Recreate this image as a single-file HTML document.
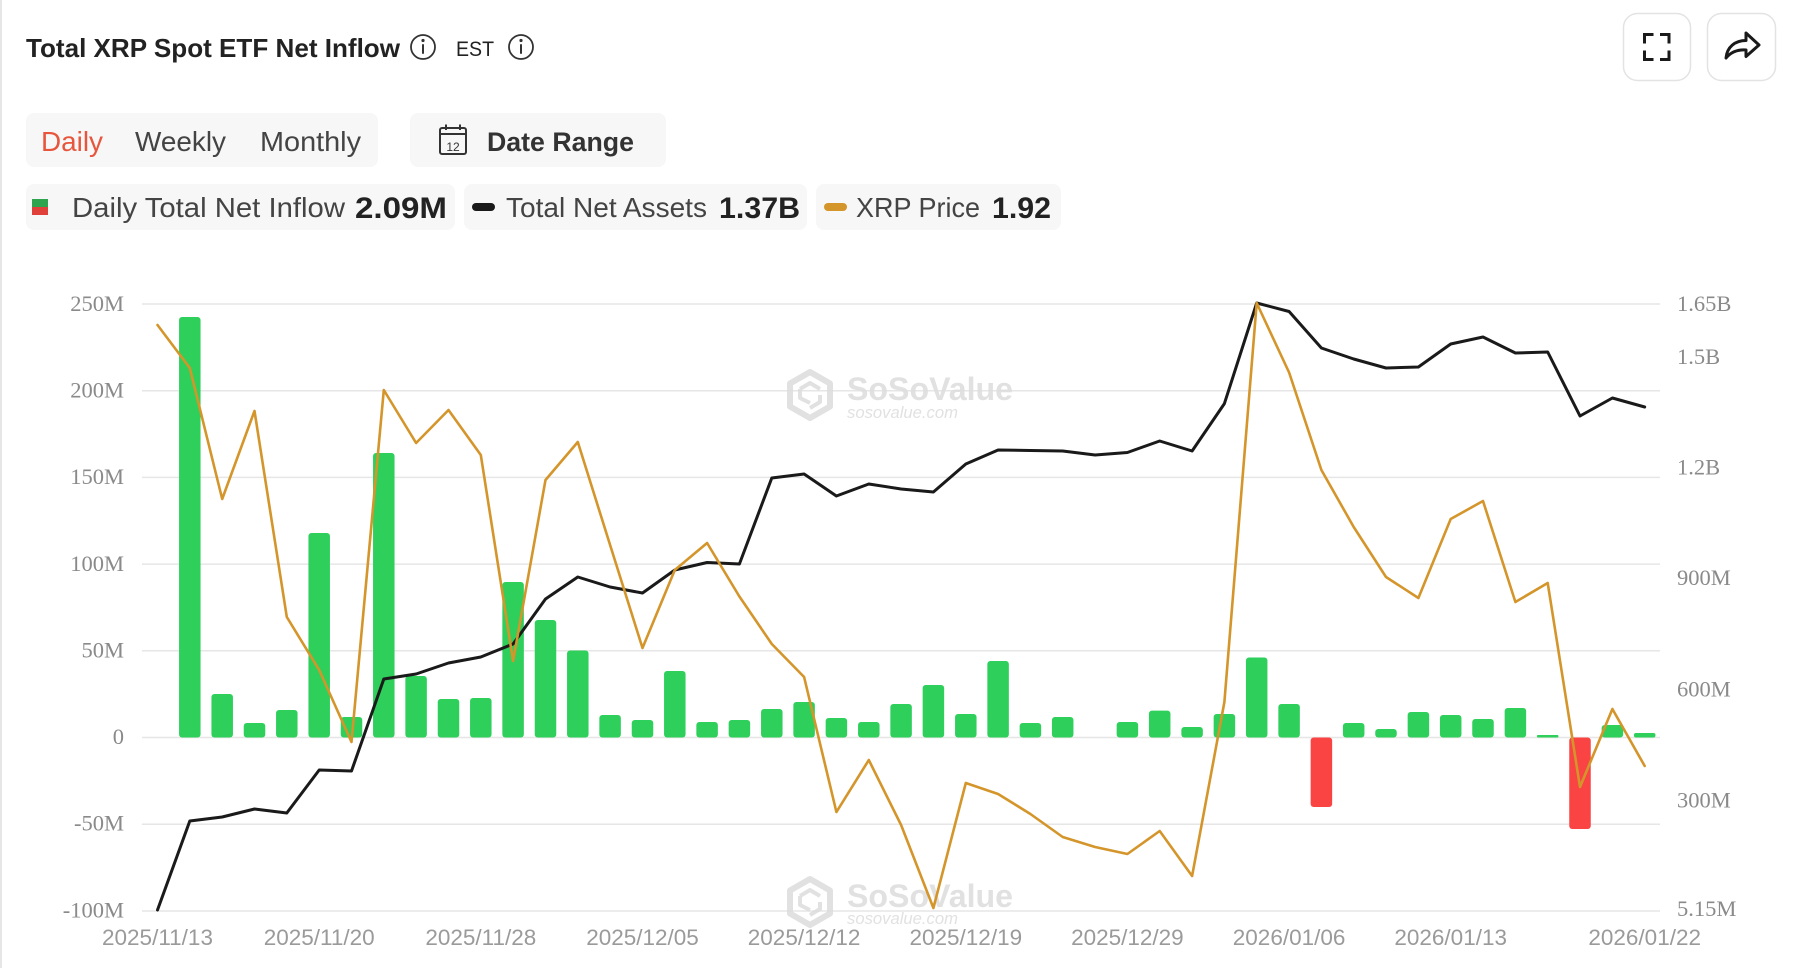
<!DOCTYPE html>
<html>
<head>
<meta charset="utf-8">
<style>
  html,body{margin:0;padding:0;background:#fff;}
  body{width:1794px;height:968px;overflow:hidden;position:relative;}
  svg{position:absolute;left:0;top:0;}
  .sans{font-family:"Liberation Sans",sans-serif;}
  .serif{font-family:"Liberation Serif",serif;}
</style>
</head>
<body>
<svg width="1794" height="968" viewBox="0 0 1794 968" xmlns="http://www.w3.org/2000/svg">
  <!-- card left border -->
  <rect x="0" y="0" width="2" height="968" fill="#e6e6e6"/>

  <!-- Title -->
  <text class="sans" x="26" y="57" font-size="26" font-weight="bold" fill="#222" textLength="374" lengthAdjust="spacingAndGlyphs">Total XRP Spot ETF Net Inflow</text>
  <g fill="none" stroke="#333" stroke-width="1.8">
    <circle cx="423" cy="47" r="12"/>
    <circle cx="521" cy="47" r="12"/>
  </g>
  <g fill="#333">
    <circle cx="423" cy="40.5" r="1.6"/>
    <rect x="422" y="44" width="2" height="10" rx="1"/>
    <circle cx="521" cy="40.5" r="1.6"/>
    <rect x="520" y="44" width="2" height="10" rx="1"/>
  </g>
  <text class="sans" x="456" y="56" font-size="21" fill="#222" textLength="38" lengthAdjust="spacingAndGlyphs">EST</text>

  <!-- top right buttons -->
  <rect x="1623.5" y="13.5" width="67" height="67" rx="14" fill="#fff" stroke="#e3e3e3" stroke-width="1.5"/>
  <rect x="1707.5" y="13.5" width="68" height="67" rx="14" fill="#fff" stroke="#e3e3e3" stroke-width="1.5"/>
  <g fill="none" stroke="#1a1a1a" stroke-width="3" stroke-linecap="square">
    <path d="M1644.5,42 V34.5 H1652"/>
    <path d="M1661.5,34.5 H1669 V42"/>
    <path d="M1644.5,52 V59.5 H1652"/>
    <path d="M1661.5,59.5 H1669 V52"/>
  </g>
  <path d="M1726,58 C1727,47 1735,40.5 1746,40.5 L1746,33 L1759,45 L1746,56.5 L1746,50 C1738,49.5 1731,52 1726,58 Z" fill="none" stroke="#1a1a1a" stroke-width="3" stroke-linejoin="round"/>

  <!-- Tabs -->
  <rect x="26" y="113" width="352" height="54" rx="8" fill="#f7f7f7"/>
  <text class="sans" x="41" y="151" font-size="28" fill="#e8553d" textLength="62" lengthAdjust="spacingAndGlyphs">Daily</text>
  <text class="sans" x="135" y="151" font-size="28" fill="#444" textLength="91" lengthAdjust="spacingAndGlyphs">Weekly</text>
  <text class="sans" x="260" y="151" font-size="28" fill="#444" textLength="101" lengthAdjust="spacingAndGlyphs">Monthly</text>

  <rect x="410" y="113" width="256" height="54" rx="8" fill="#f7f7f7"/>
  <!-- calendar icon -->
  <g fill="none" stroke="#333" stroke-width="2">
    <rect x="440" y="128" width="26" height="26" rx="2"/>
    <line x1="440" y1="134" x2="466" y2="134"/>
    <line x1="446" y1="124.5" x2="446" y2="130"/>
    <line x1="460" y1="124.5" x2="460" y2="130"/>
  </g>
  <text class="sans" x="453" y="151" font-size="12" fill="#333" text-anchor="middle">12</text>
  <text class="sans" x="487" y="151" font-size="27" font-weight="bold" fill="#333" textLength="147" lengthAdjust="spacingAndGlyphs">Date Range</text>

  <!-- Legend -->
  <rect x="26" y="184" width="429" height="46" rx="8" fill="#f7f7f7"/>
  <rect x="32" y="199" width="16" height="8" fill="#2ea44f"/>
  <rect x="32" y="207" width="16" height="8" fill="#e0403a"/>
  <text class="sans" x="72" y="217" font-size="27.5" fill="#444" textLength="273" lengthAdjust="spacingAndGlyphs">Daily Total Net Inflow</text>
  <text class="sans" x="355" y="218" font-size="30" font-weight="bold" fill="#222" textLength="92" lengthAdjust="spacingAndGlyphs">2.09M</text>

  <rect x="464" y="184" width="343" height="46" rx="8" fill="#f7f7f7"/>
  <rect x="472" y="203" width="23" height="8" rx="4" fill="#1a1a1a"/>
  <text class="sans" x="506" y="217" font-size="27.5" fill="#444" textLength="201" lengthAdjust="spacingAndGlyphs">Total Net Assets</text>
  <text class="sans" x="719" y="218" font-size="30" font-weight="bold" fill="#222" textLength="81" lengthAdjust="spacingAndGlyphs">1.37B</text>

  <rect x="816" y="184" width="245" height="46" rx="8" fill="#f7f7f7"/>
  <rect x="824" y="203" width="23" height="8" rx="4" fill="#d4952b"/>
  <text class="sans" x="856" y="217" font-size="27.5" fill="#444" textLength="124" lengthAdjust="spacingAndGlyphs">XRP Price</text>
  <text class="sans" x="992" y="218" font-size="30" font-weight="bold" fill="#222" textLength="59" lengthAdjust="spacingAndGlyphs">1.92</text>

  <!-- Gridlines -->
  <g stroke="#e6e6e6" stroke-width="1.5">
    <line x1="142" y1="304" x2="1660" y2="304"/>
    <line x1="142" y1="390.7" x2="1660" y2="390.7"/>
    <line x1="142" y1="477.4" x2="1660" y2="477.4"/>
    <line x1="142" y1="564.1" x2="1660" y2="564.1"/>
    <line x1="142" y1="650.8" x2="1660" y2="650.8"/>
    <line x1="142" y1="737.5" x2="1660" y2="737.5"/>
    <line x1="142" y1="824.2" x2="1660" y2="824.2"/>
    <line x1="142" y1="911" x2="1660" y2="911"/>
  </g>

  <!-- Left axis labels -->
  <g class="serif" font-size="22.5" fill="#8a8a8a" text-anchor="end">
    <text x="124" y="311">250M</text>
    <text x="124" y="397.5">200M</text>
    <text x="124" y="484">150M</text>
    <text x="124" y="571">100M</text>
    <text x="124" y="657.5">50M</text>
    <text x="124" y="744">0</text>
    <text x="124" y="830.5">-50M</text>
    <text x="124" y="917.5">-100M</text>
  </g>
  <!-- Right axis labels -->
  <g class="serif" font-size="22.5" fill="#8a8a8a">
    <text x="1677" y="311">1.65B</text>
    <text x="1677" y="364">1.5B</text>
    <text x="1677" y="474.5">1.2B</text>
    <text x="1677" y="585">900M</text>
    <text x="1677" y="696.5">600M</text>
    <text x="1677" y="807.5">300M</text>
    <text x="1677" y="916">5.15M</text>
  </g>

  <!-- X axis labels -->
  <g class="sans" font-size="22.5" fill="#9a9a9a" text-anchor="middle">
    <text x="157.5" y="945">2025/11/13</text>
    <text x="319.2" y="945">2025/11/20</text>
    <text x="480.8" y="945">2025/11/28</text>
    <text x="642.5" y="945">2025/12/05</text>
    <text x="804.1" y="945">2025/12/12</text>
    <text x="965.8" y="945">2025/12/19</text>
    <text x="1127.4" y="945">2025/12/29</text>
    <text x="1289.1" y="945">2026/01/06</text>
    <text x="1450.7" y="945">2026/01/13</text>
    <text x="1644.7" y="945">2026/01/22</text>
  </g>

  <!-- Watermarks -->
  <g opacity="0.9">
    <g fill="none" stroke="#dedede" stroke-width="6" stroke-linejoin="round">
      <polygon points="810,372 830,383.5 830,406.5 810,418 790,406.5 790,383.5"/>
      <path d="M800,389 L810,383 L820,389 M800,389 L800,398 L810,403 M820,395 L820,402 L810,408" stroke-width="4"/>
    </g>
    <text class="sans" x="847" y="400" font-size="32" font-weight="bold" fill="#dedede" textLength="166" lengthAdjust="spacingAndGlyphs">SoSoValue</text>
    <text class="sans" x="847" y="418" font-size="16.6" font-style="italic" fill="#dedede" textLength="111" lengthAdjust="spacingAndGlyphs">sosovalue.com</text>

    <g fill="none" stroke="#dedede" stroke-width="6" stroke-linejoin="round">
      <polygon points="810,879 830,890.5 830,913.5 810,925 790,913.5 790,890.5"/>
      <path d="M800,896 L810,890 L820,896 M800,896 L800,905 L810,910 M820,902 L820,909 L810,915" stroke-width="4"/>
    </g>
    <text class="sans" x="847" y="907" font-size="32" font-weight="bold" fill="#dedede" textLength="166" lengthAdjust="spacingAndGlyphs">SoSoValue</text>
    <text class="sans" x="847" y="924" font-size="16.6" font-style="italic" fill="#dedede" textLength="111" lengthAdjust="spacingAndGlyphs">sosovalue.com</text>
  </g>

  <!-- Bars -->
  <g fill="#2ecf5b">
    <rect x="179.05" y="317" width="21.5" height="420.5" rx="3"/>
    <rect x="211.45" y="694" width="21.5" height="43.5" rx="3"/>
    <rect x="243.75" y="723" width="21.5" height="14.5" rx="3"/>
    <rect x="276.05" y="710" width="21.5" height="27.5" rx="3"/>
    <rect x="308.45" y="533" width="21.5" height="204.5" rx="3"/>
    <rect x="340.75" y="717" width="21.5" height="20.5" rx="3"/>
    <rect x="373.05" y="453" width="21.5" height="284.5" rx="3"/>
    <rect x="405.35" y="676" width="21.5" height="61.5" rx="3"/>
    <rect x="437.75" y="699" width="21.5" height="38.5" rx="3"/>
    <rect x="470.05" y="698" width="21.5" height="39.5" rx="3"/>
    <rect x="502.35" y="582" width="21.5" height="155.5" rx="3"/>
    <rect x="534.75" y="620" width="21.5" height="117.5" rx="3"/>
    <rect x="567.05" y="650.5" width="21.5" height="87" rx="3"/>
    <rect x="599.35" y="715" width="21.5" height="22.5" rx="3"/>
    <rect x="631.75" y="720" width="21.5" height="17.5" rx="3"/>
    <rect x="664.05" y="671" width="21.5" height="66.5" rx="3"/>
    <rect x="696.35" y="722" width="21.5" height="15.5" rx="3"/>
    <rect x="728.65" y="720" width="21.5" height="17.5" rx="3"/>
    <rect x="761.05" y="709" width="21.5" height="28.5" rx="3"/>
    <rect x="793.35" y="702" width="21.5" height="35.5" rx="3"/>
    <rect x="825.65" y="718" width="21.5" height="19.5" rx="3"/>
    <rect x="858.05" y="722" width="21.5" height="15.5" rx="3"/>
    <rect x="890.35" y="704" width="21.5" height="33.5" rx="3"/>
    <rect x="922.65" y="685" width="21.5" height="52.5" rx="3"/>
    <rect x="955.05" y="714" width="21.5" height="23.5" rx="3"/>
    <rect x="987.35" y="661" width="21.5" height="76.5" rx="3"/>
    <rect x="1019.65" y="723" width="21.5" height="14.5" rx="3"/>
    <rect x="1051.95" y="717" width="21.5" height="20.5" rx="3"/>
    <rect x="1116.65" y="722" width="21.5" height="15.5" rx="3"/>
    <rect x="1148.95" y="710.6" width="21.5" height="26.9" rx="3"/>
    <rect x="1181.35" y="727" width="21.5" height="10.5" rx="3"/>
    <rect x="1213.65" y="714" width="21.5" height="23.5" rx="3"/>
    <rect x="1245.95" y="657.5" width="21.5" height="80" rx="3"/>
    <rect x="1278.35" y="704" width="21.5" height="33.5" rx="3"/>
    <rect x="1342.95" y="723" width="21.5" height="14.5" rx="3"/>
    <rect x="1375.25" y="729" width="21.5" height="8.5" rx="3"/>
    <rect x="1407.65" y="712" width="21.5" height="25.5" rx="3"/>
    <rect x="1439.95" y="715" width="21.5" height="22.5" rx="3"/>
    <rect x="1472.25" y="719" width="21.5" height="18.5" rx="3"/>
    <rect x="1504.65" y="708" width="21.5" height="29.5" rx="3"/>
    <rect x="1536.95" y="735" width="21.5" height="2.5" rx="1"/>
    <rect x="1601.65" y="725" width="21.5" height="12.5" rx="3"/>
    <rect x="1633.95" y="733" width="21.5" height="4.5" rx="2"/>
  </g>
  <g fill="#fa4343">
    <rect x="1310.65" y="737.5" width="21.5" height="69.5" rx="3"/>
    <rect x="1569.25" y="737.5" width="21.5" height="91.5" rx="3"/>
  </g>

  <!-- Total Net Assets line -->
  <polyline fill="none" stroke="#1a1a1a" stroke-width="3" stroke-linejoin="round" stroke-linecap="round"
    points="157.5,910 189.8,821 222.2,817 254.5,809 286.8,813 319.2,770 351.5,771 383.8,679 416.1,674 448.5,663 480.8,657 513.1,644 545.5,599 577.8,577 610.1,587 642.5,593 674.8,570 707.1,562.5 739.4,564 771.8,478 804.1,474 836.4,496 868.8,484 901.1,489 933.4,492 965.8,464 998.1,450 1030.4,450.5 1062.7,451 1095.1,455 1127.4,452.5 1159.7,441 1192.1,451 1224.4,403.6 1256.7,303 1289.1,311.5 1321.4,348 1353.7,359 1386,368 1418.4,367 1450.7,344 1483,337 1515.4,353 1547.7,352 1580,416 1612.4,398 1644.7,407"/>

  <!-- XRP Price line -->
  <polyline fill="none" stroke="#d4952b" stroke-width="2.6" stroke-linejoin="round" stroke-linecap="round"
    points="157.5,325 189.8,368 222.2,499 254.5,411 286.8,617 319.2,670 351.5,742 383.8,390 416.1,443 448.5,410 480.8,455 513.1,661 545.5,480 577.8,442 610.1,545 642.5,648 674.8,570 707.1,543 739.4,596.5 771.8,644 804.1,677 836.4,812 868.8,760 901.1,825 933.4,908 965.8,783 998.1,794 1030.4,814 1062.7,837 1095.1,847 1127.4,854 1159.7,831 1192.1,876 1224.4,702 1256.7,303 1289.1,372.5 1321.4,470 1353.7,527 1386,577 1418.4,598 1450.7,519 1483,501 1515.4,602 1547.7,583 1580,787 1612.4,709 1644.7,766"/>
</svg>
</body>
</html>
